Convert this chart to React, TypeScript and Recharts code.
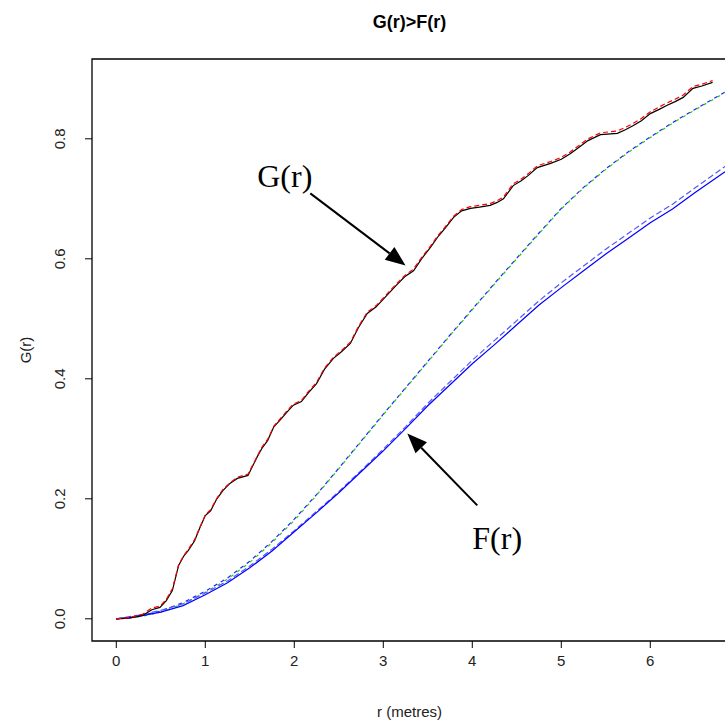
import React from 'react';
import { LineChart, Line, XAxis, YAxis, ReferenceArea, ReferenceLine, ReferenceDot } from 'recharts';

// G(r): nearest-neighbour distribution, two edge corrections
const rG = [0, 0.15, 0.3, 0.4, 0.49, 0.56, 0.63, 0.7, 0.76, 0.81, 0.88, 0.94, 1.0, 1.06, 1.13, 1.2, 1.28, 1.36, 1.48, 1.58, 1.64, 1.7, 1.77, 1.84, 1.92, 1.99, 2.08, 2.16, 2.25, 2.34, 2.44, 2.53, 2.63, 2.72, 2.82, 2.92, 3.04, 3.14, 3.24, 3.34, 3.43, 3.53, 3.62, 3.7, 3.79, 3.88, 3.98, 4.08, 4.2, 4.28, 4.35, 4.46, 4.55, 4.63, 4.73, 4.88, 5.0, 5.1, 5.2, 5.3, 5.44, 5.63, 5.72, 5.81, 5.9, 6.0, 6.1, 6.19, 6.28, 6.37, 6.48, 6.58, 6.7];
const gKm = [0, 0.001, 0.006, 0.015, 0.019, 0.03, 0.047, 0.089, 0.105, 0.114, 0.13, 0.152, 0.172, 0.18, 0.2, 0.214, 0.226, 0.234, 0.239, 0.269, 0.285, 0.297, 0.32, 0.331, 0.345, 0.356, 0.362, 0.377, 0.392, 0.416, 0.434, 0.445, 0.459, 0.485, 0.509, 0.52, 0.539, 0.555, 0.57, 0.58, 0.6, 0.619, 0.638, 0.652, 0.669, 0.68, 0.684, 0.686, 0.689, 0.694, 0.7, 0.722, 0.73, 0.739, 0.752, 0.759, 0.766, 0.775, 0.786, 0.797, 0.807, 0.809, 0.815, 0.822, 0.83, 0.842, 0.849, 0.856, 0.862, 0.869, 0.884, 0.888, 0.894];
const gRs = [0, 0.002, 0.008, 0.018, 0.021, 0.032, 0.05, 0.09, 0.106, 0.116, 0.132, 0.153, 0.173, 0.182, 0.201, 0.216, 0.227, 0.236, 0.241, 0.27, 0.287, 0.299, 0.321, 0.333, 0.347, 0.358, 0.364, 0.379, 0.394, 0.418, 0.436, 0.447, 0.461, 0.487, 0.511, 0.522, 0.541, 0.557, 0.572, 0.583, 0.602, 0.621, 0.64, 0.654, 0.671, 0.682, 0.687, 0.689, 0.692, 0.697, 0.703, 0.725, 0.733, 0.742, 0.755, 0.762, 0.769, 0.778, 0.789, 0.8, 0.81, 0.813, 0.819, 0.826, 0.834, 0.845, 0.853, 0.86, 0.866, 0.873, 0.887, 0.891, 0.897];

// theoretical (Poisson) curve, drawn twice
const rTheo = [0, 0.25, 0.5, 0.75, 1.0, 1.25, 1.5, 1.75, 2.0, 2.25, 2.5, 2.75, 3.0, 3.25, 3.5, 3.75, 4.0, 4.25, 4.5, 4.75, 5.0, 5.25, 5.5, 5.75, 6.0, 6.25, 6.5, 6.84];
const theoGreen = [0, 0.003, 0.011, 0.025, 0.044, 0.066, 0.094, 0.127, 0.164, 0.206, 0.25, 0.295, 0.34, 0.384, 0.428, 0.472, 0.515, 0.558, 0.6, 0.642, 0.683, 0.718, 0.749, 0.777, 0.802, 0.826, 0.848, 0.877];
const theoBlue = [0, 0.004, 0.013, 0.027, 0.046, 0.068, 0.096, 0.129, 0.166, 0.207, 0.251, 0.296, 0.341, 0.385, 0.429, 0.473, 0.516, 0.559, 0.601, 0.643, 0.684, 0.719, 0.75, 0.778, 0.803, 0.827, 0.849, 0.878];

// F(r): empty space function
const rF = [0, 0.25, 0.5, 0.75, 1.0, 1.25, 1.5, 1.75, 2.0, 2.25, 2.5, 2.75, 3.0, 3.25, 3.5, 3.75, 4.0, 4.25, 4.5, 4.75, 5.0, 5.25, 5.5, 5.75, 6.0, 6.25, 6.5, 6.84];
const fKm = [0, 0.004, 0.011, 0.022, 0.04, 0.06, 0.085, 0.113, 0.145, 0.177, 0.21, 0.245, 0.28, 0.317, 0.355, 0.39, 0.425, 0.457, 0.49, 0.523, 0.552, 0.58, 0.608, 0.634, 0.66, 0.683, 0.71, 0.745];
const fRs = [0, 0.006, 0.014, 0.025, 0.043, 0.063, 0.088, 0.116, 0.147, 0.179, 0.212, 0.247, 0.283, 0.32, 0.359, 0.395, 0.431, 0.464, 0.497, 0.53, 0.56, 0.588, 0.616, 0.642, 0.668, 0.691, 0.718, 0.754];

const xTicks = [0, 1, 2, 3, 4, 5, 6];
const yTicks = [0, 0.2, 0.4, 0.6, 0.8];
const xDomain = [-0.273, 6.862];
const yDomain = [-0.037, 0.933];

// annotations (data coordinates)
const gLabel = { x: 1.893, y: 0.719, text: 'G(r)' };
const fLabel = { x: 4.28, y: 0.117, text: 'F(r)' };
const gArrow = [{ x: 2.18, y: 0.709 }, { x: 3.25, y: 0.589 }];
const fArrow = [{ x: 4.056, y: 0.189 }, { x: 3.27, y: 0.309 }];

const pts = (rs: number[], vs: number[]) => rs.map((r, i) => ({ r, v: vs[i] }));

const sans = '"Liberation Sans", Arial, sans-serif';
const serif = '"Liberation Serif", "Times New Roman", serif';

const Arrow = (p: any) => {
  const { x1, y1, x2, y2 } = p;
  const a = Math.atan2(y2 - y1, x2 - x1);
  const L = 20, W = 8;
  const bx = x2 - L * Math.cos(a);
  const by = y2 - L * Math.sin(a);
  const pA = `${bx + W * Math.sin(a)},${by - W * Math.cos(a)}`;
  const pB = `${bx - W * Math.sin(a)},${by + W * Math.cos(a)}`;
  return (
    <g>
      <line x1={x1} y1={y1} x2={bx} y2={by} stroke="#000" strokeWidth={2} />
      <polygon points={`${x2},${y2} ${pA} ${pB}`} fill="#000" />
    </g>
  );
};

const labelShape = (text: string) => (p: any) => (
  <text x={p.cx} y={p.cy} textAnchor="middle" fontFamily={serif} fontSize={32} fill="#000">
    {text}
  </text>
);

const YTick = (p: any) => (
  <text
    x={60}
    y={p.y}
    transform={`rotate(-90 60 ${p.y})`}
    textAnchor="middle"
    dominantBaseline="central"
    fontFamily={sans}
    fontSize={15}
    fill="#222"
  >
    {Number(p.payload.value).toFixed(1)}
  </text>
);

export default function App() {
  return (
    <div style={{ position: 'absolute', left: 0, top: 0, width: 725, height: 723, overflow: 'hidden', background: '#fff' }}>
      <div
        style={{
          position: 'absolute', left: 92, top: 12, width: 635, textAlign: 'center',
          fontFamily: sans, fontWeight: 'bold', fontSize: 18, lineHeight: '20px', color: '#000',
        }}
      >
        G(r)&gt;F(r)
      </div>
      <LineChart width={727} height={723} margin={{ top: 59, right: 0, bottom: 0, left: 0 }}>
        <XAxis
          type="number"
          dataKey="r"
          domain={xDomain}
          ticks={xTicks}
          allowDataOverflow
          height={82}
          axisLine={false}
          tickSize={7}
          tickMargin={7}
          tickLine={{ stroke: '#000' }}
          tick={{ fontFamily: sans, fontSize: 15, fill: '#222' }}
          label={{ value: 'r (metres)', position: 'insideBottom', offset: 6, fontFamily: sans, fontSize: 15, fill: '#222' }}
        />
        <YAxis
          type="number"
          domain={yDomain}
          ticks={yTicks}
          allowDataOverflow
          width={92}
          axisLine={false}
          tickSize={7}
          tickLine={{ stroke: '#000' }}
          tick={YTick}
          label={{
            content: (p: any) => {
              const vb = p.viewBox;
              const cx = vb.x + 25;
              const cy = vb.y + vb.height / 2;
              return (
                <text x={cx} y={cy} transform={`rotate(-90 ${cx} ${cy})`} textAnchor="middle" dominantBaseline="central" fontFamily={sans} fontSize={15} fill="#222">
                  G(r)
                </text>
              );
            },
          }}
        />
        <ReferenceArea x1={xDomain[0]} x2={xDomain[1]} y1={yDomain[0]} y2={yDomain[1]} fill="none" stroke="#000" strokeWidth={1.3} ifOverflow="visible" />

        <Line data={pts(rTheo, theoBlue)} dataKey="v" type="linear" stroke="#2222ff" strokeWidth={1.2} strokeDasharray="4 4" dot={false} isAnimationActive={false} />
        <Line data={pts(rTheo, theoGreen)} dataKey="v" type="linear" stroke="#22cc22" strokeWidth={1.2} strokeDasharray="0 4 3 1" dot={false} isAnimationActive={false} />
        <Line data={pts(rF, fRs)} dataKey="v" type="linear" stroke="#5555ff" strokeWidth={1.2} strokeDasharray="6 3" dot={false} isAnimationActive={false} />
        <Line data={pts(rF, fKm)} dataKey="v" type="linear" stroke="#0000ff" strokeWidth={1.2} dot={false} isAnimationActive={false} />
        <Line data={pts(rG, gKm)} dataKey="v" type="linear" stroke="#000" strokeWidth={1.2} dot={false} isAnimationActive={false} />
        <Line data={pts(rG, gRs)} dataKey="v" type="linear" stroke="#ff0000" strokeWidth={1.2} strokeDasharray="5 3" dot={false} isAnimationActive={false} />

        <ReferenceLine segment={gArrow} shape={Arrow} ifOverflow="visible" />
        <ReferenceLine segment={fArrow} shape={Arrow} ifOverflow="visible" />
        <ReferenceDot x={gLabel.x} y={gLabel.y} r={1} ifOverflow="visible" shape={labelShape(gLabel.text)} />
        <ReferenceDot x={fLabel.x} y={fLabel.y} r={1} ifOverflow="visible" shape={labelShape(fLabel.text)} />
      </LineChart>
    </div>
  );
}
